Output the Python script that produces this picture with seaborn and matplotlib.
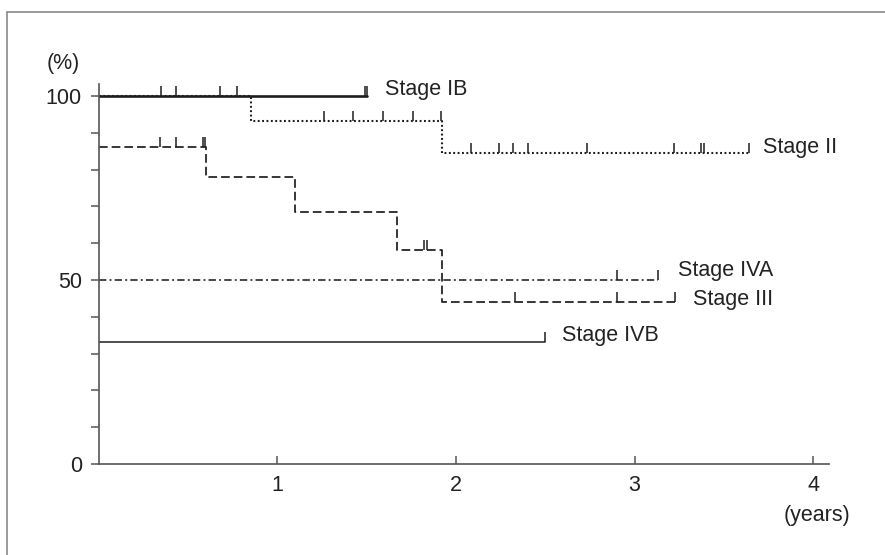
import numpy as np
import pandas as pd
import seaborn as sns
import matplotlib
matplotlib.use("Agg")
import matplotlib.pyplot as plt
from matplotlib.path import Path
from matplotlib.lines import Line2D

# ---- data ----
ib_time = [0.0, 1.50]
ib_surv = [100.0, 100.0]
ib_cens = [0.348, 0.434, 0.680, 0.773, 1.491, 1.502]

ii_time = [0.0, 0.853, 1.921, 3.640]
ii_surv = [100.0, 93.2, 84.6, 84.6]
ii_cens = [1.262, 1.424, 1.594, 1.762, 1.917, 2.083, 2.243, 2.321, 2.402,
           2.735, 3.222, 3.372, 3.390, 3.640]

iii_time = [0.0, 0.602, 1.100, 1.672, 1.921, 3.226]
iii_surv = [86.1, 78.1, 68.4, 58.3, 44.0, 44.0]
iii_cens = [0.344, 0.434, 0.586, 0.596, 1.823, 1.837, 2.331, 2.903, 3.226]

iva_time = [0.0, 3.133]
iva_surv = [50.0, 50.0]
iva_cens = [2.903, 3.133]

ivb_time = [0.0, 2.499]
ivb_surv = [33.3, 33.3]
ivb_cens = [2.499]

stage_names = ["Stage IB", "Stage II", "Stage III", "Stage IVA", "Stage IVB"]
label_x = [1.603, 3.719, 3.329, 3.245, 2.592]
label_y = [101.9, 86.0, 44.8, 52.7, 34.9]

y_major = [0, 50, 100]
y_minor = [10, 20, 30, 40, 60, 70, 80, 90]
x_major = [1, 2, 3, 4]

# ---- style ----
sns.set_style("white")
plt.rcParams["font.family"] = ["Liberation Sans", "DejaVu Sans"]

W, H = 885, 555
fig = plt.figure(figsize=(W / 100, H / 100), dpi=100)
fig.patch.set_facecolor("white")

def fx(px):
    return px / W

def fy(py):
    return 1 - py / H

ax = fig.add_axes([fx(98.5), fy(464), fx(829) - fx(98.5), fy(84) - fy(464)])

line_col = "#1e1e1e"
text_col = "#222222"
stages = [
    (ib_time, ib_surv, ib_cens, dict(linewidth=1.9, linestyle="-")),
    (ii_time, ii_surv, ii_cens, dict(linewidth=1.5, linestyle=(0, (0.9, 1.2)))),
    (iii_time, iii_surv, iii_cens, dict(linewidth=1.25, linestyle=(0, (5.0, 2.3)))),
    (iva_time, iva_surv, iva_cens, dict(linewidth=1.15, linestyle=(0, (4.6, 2.0, 1.2, 2.0)))),
    (ivb_time, ivb_surv, ivb_cens, dict(linewidth=1.1, linestyle="-")),
]

censor_marker = Path([(0, 0), (0, 1)], [Path.MOVETO, Path.LINETO])

# Draw order: IB last so the thick line covers the dotted start of II
order = [1, 2, 3, 4, 0]
for i in order:
    t, s, c, kw = stages[i]
    df = pd.DataFrame({"time": t, "surv": s})
    sns.lineplot(data=df, x="time", y="surv", ax=ax, estimator=None, sort=False,
                 drawstyle="steps-post", color=line_col, **kw)
    levels = [s[np.searchsorted(t, ci, side="right") - 1] for ci in c]
    ax.plot(c, levels, linestyle="none", marker=censor_marker, markersize=14,
            markeredgewidth=1.1, color=line_col)

for name, lx, ly in zip(stage_names, label_x, label_y):
    ax.text(lx, ly, name, ha="left", va="center", fontsize=15.5, color=text_col)

ax.set_xlim(0, 4.088)
ax.set_ylim(0, 103.3)
ax.set_xlabel("")
ax.set_ylabel("")

sns.despine(ax=ax)
for side in ["left", "bottom"]:
    ax.spines[side].set_color("#555555")
    ax.spines[side].set_linewidth(1.2)

ax.set_yticks(y_major)
ax.set_yticklabels([str(v) for v in y_major])
ax.set_yticks(y_minor, minor=True)
ax.set_xticks(x_major)
ax.set_xticklabels([str(v) for v in x_major])

ax.tick_params(axis="y", which="both", direction="out", length=6, width=1.1,
               color="#555555", pad=6, labelsize=15.5, labelcolor=text_col, left=True)
ax.tick_params(axis="x", which="major", direction="in", length=5.5, width=1.1,
               color="#555555", pad=8, labelsize=15.5, labelcolor=text_col, bottom=True)

fig.text(fx(63), fy(63), "(%)", ha="center", va="center", fontsize=15.5, color=text_col)
fig.text(fx(817), fy(515), "(years)", ha="center", va="center", fontsize=15.5, color=text_col)

# partial frame (top and left edges of the page border)
fig.add_artist(Line2D([fx(6.7), 1.0], [fy(12.3), fy(12.3)], transform=fig.transFigure,
                      color="#8a8a8a", linewidth=1.2))
fig.add_artist(Line2D([fx(6.7), fx(6.7)], [fy(12.3), 0.0], transform=fig.transFigure,
                      color="#8a8a8a", linewidth=1.2))

fig.savefig("out.png", dpi=100, facecolor="white")
